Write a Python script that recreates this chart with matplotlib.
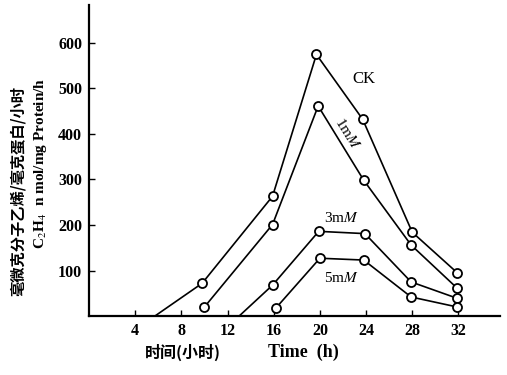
import matplotlib
matplotlib.use("Agg")
import matplotlib.pyplot as plt

# =========================
# 1. Values
# =========================
# each series starts on the time axis (no marker) then has measured points
ck_start = [5.7, 0]
ck_time = [9.8, 15.9, 19.7, 23.7, 28.0, 31.9]
ck_value = [72, 263, 574, 432, 184, 95]

mm1_time = [10.0, 15.9, 19.85, 23.8, 27.9, 31.9]
mm1_value = [20, 201, 461, 298, 156, 61]

mm3_start = [13.0, 0]
mm3_time = [15.9, 19.9, 23.9, 27.9, 31.9]
mm3_value = [68, 186, 181, 75, 39]

mm5_time = [16.2, 20.0, 23.8, 27.9, 31.9]
mm5_value = [18, 127, 123, 42, 20]

xticks = [4, 8, 12, 16, 20, 24, 28, 32]
yticks = [100, 200, 300, 400, 500, 600]

# ===========
# 2. Plotting
# ===========
plt.rcParams["mathtext.fontset"] = "stix"
serif = "Liberation Serif"
cjk = ["Noto Sans CJK SC", "DejaVu Sans"]

fig = plt.figure(figsize=(5.07, 3.75), dpi=100)
ax = fig.add_axes([0.1755, 0.157, 0.8107, 0.829])

line_kw = dict(color="black", lw=1.2, marker="o", ms=6.5,
               mfc="white", mec="black", mew=1.3)

ax.plot([ck_start[0], ck_time[0]], [ck_start[1], ck_value[0]], color="black", lw=1.2)
ax.plot(ck_time, ck_value, **line_kw)
ax.plot(mm1_time, mm1_value, **line_kw)
ax.plot([mm3_start[0], mm3_time[0]], [mm3_start[1], mm3_value[0]], color="black", lw=1.2)
ax.plot(mm3_time, mm3_value, **line_kw)
ax.plot(mm5_time, mm5_value, **line_kw)

# ==============
# 3. Line labels
# ==============
ax.text(23.8, 520, "CK", fontsize=12, family=serif, ha="center", va="center")
ax.text(22.4, 400, "1m$M$", fontsize=11, family=serif, ha="center", va="center", rotation=-58)
ax.text(21.9, 215, "3m$M$", fontsize=11, family=serif, ha="center", va="center")
ax.text(21.9, 83, "5m$M$", fontsize=11, family=serif, ha="center", va="center")

# ==================
# 4. Formatting axes
# ==================
ax.set_xlim(0, 35.6)
ax.set_ylim(0, 682)
ax.spines["top"].set_visible(False)
ax.spines["right"].set_visible(False)
ax.spines["left"].set_linewidth(1.6)
ax.spines["bottom"].set_linewidth(1.6)
ax.set_xticks(xticks)
ax.set_yticks(yticks)
ax.tick_params(direction="in", length=4, width=1, pad=5)
for lab in ax.get_xticklabels() + ax.get_yticklabels():
    lab.set_family(serif)
    lab.set_fontweight("bold")
    lab.set_fontsize(11.5)

# =========
# 5. Titles
# =========
fig.text(0.036, 0.49, "毫微克分子乙烯/毫克蛋白/小时", rotation=90, fontsize=11,
         family=cjk, fontweight="bold", ha="center", va="center")
fig.text(0.080, 0.565, "C$_2$H$_4$  n mol/mg Protein/h", rotation=90, fontsize=11,
         family=serif, fontweight="bold", ha="center", va="center")
fig.text(0.361, 0.061, "时间(小时)", fontsize=11.5, family=cjk, fontweight="bold",
         ha="center", va="center")
fig.text(0.598, 0.061, "Time  (h)", fontsize=13, family=serif, fontweight="bold",
         ha="center", va="center")

fig.savefig("out.png", dpi=100)
